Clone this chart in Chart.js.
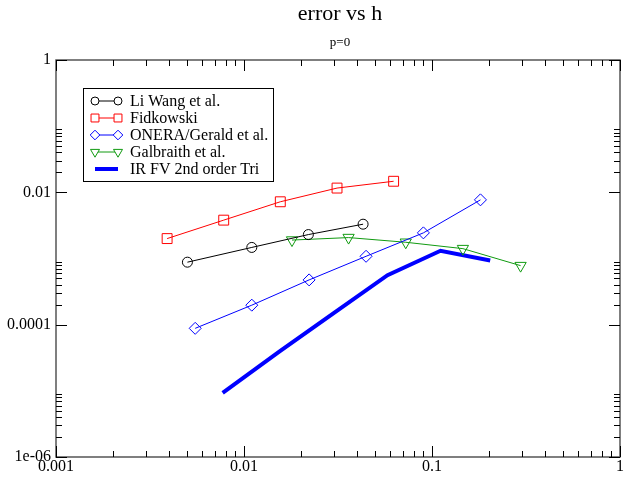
<!DOCTYPE html>
<html>
<head>
<meta charset="utf-8">
<title>error vs h</title>
<script src="https://cdn.jsdelivr.net/npm/chart.js@4/dist/chart.umd.min.js"></script>
<style>
  html, body { margin: 0; padding: 0; background: #fff; }
  #wrap { width: 628px; height: 477px; }
</style>
</head>
<body>
<div id="wrap"><canvas id="errChart" width="628" height="477"></canvas></div>
<script>
// mesh size h vs error, p=0
const liWangH = [0.005, 0.011, 0.022, 0.043];
const liWangErr = [8.8e-4, 1.47e-3, 2.3e-3, 3.3e-3];

const fidkowskiH = [0.0039, 0.0078, 0.0156, 0.03125, 0.0625];
const fidkowskiErr = [2.0e-3, 3.8e-3, 7.2e-3, 1.16e-2, 1.47e-2];

const oneraH = [0.0055, 0.011, 0.0222, 0.0446, 0.09, 0.181];
const oneraErr = [8.8e-5, 1.97e-4, 4.75e-4, 1.08e-3, 2.44e-3, 7.7e-3];

const galbraithH = [0.018, 0.036, 0.0725, 0.146, 0.296];
const galbraithErr = [1.9e-3, 2.07e-3, 1.76e-3, 1.41e-3, 7.8e-4];

const irfvH = [0.0077, 0.0154, 0.030, 0.058, 0.111, 0.204];
const irfvErr = [9.3e-6, 3.9e-5, 1.5e-4, 5.6e-4, 1.31e-3, 9.3e-4];

const xTickValues = [0.001, 0.01, 0.1, 1];
const xTickLabels = ['0.001', '0.01', '0.1', '1'];
const yTickValues = [1e-6, 1e-4, 1e-2, 1];
const yTickLabels = ['1e-06', '0.0001', '0.01', '1'];

const serif = '"Liberation Serif", "DejaVu Serif", serif';

function pts(xs, ys) {
    return xs.map((x, i) => ({ x: x, y: ys[i] }));
}

function series(label, xs, ys, color, style, radius, rotation) {
    return {
        label: label,
        data: pts(xs, ys),
        showLine: true,
        borderColor: color,
        borderWidth: 1,
        pointStyle: style,
        pointRadius: radius,
        pointRotation: rotation || 0,
        pointBorderColor: color,
        pointBackgroundColor: 'rgba(0,0,0,0)',
        pointBorderWidth: 1
    };
}

const datasets = [
    series('Li Wang et al.', liWangH, liWangErr, '#000000', 'circle', 5),
    series('Fidkowski', fidkowskiH, fidkowskiErr, '#ff0000', 'rect', 7),
    series('ONERA/Gerald et al.', oneraH, oneraErr, '#0000ff', 'rectRot', 6),
    series('Galbraith et al.', galbraithH, galbraithErr, '#109a10', 'triangle', 6.5, 180),
    {
        label: 'IR FV 2nd order Tri',
        data: pts(irfvH, irfvErr),
        showLine: true,
        borderColor: '#0000ff',
        borderWidth: 4,
        pointRadius: 0
    }
];

// frame, inward ticks on all four sides, tick labels
const axesFrame = {
    id: 'axesFrame',
    afterDraw(chart) {
        const ctx = chart.ctx;
        const a = chart.chartArea;
        const xs = chart.scales.x;
        const ys = chart.scales.y;
        ctx.save();
        ctx.strokeStyle = '#555';
        ctx.lineWidth = 1.5;
        ctx.strokeRect(a.left, a.top, a.right - a.left, a.bottom - a.top);

        ctx.lineWidth = 1;
        ctx.strokeStyle = '#000';
        const major = 11, minor = 6;
        ctx.beginPath();
        // x ticks (bottom and top)
        for (let k = -3; k <= 0; k++) {
            const px = Math.round(xs.getPixelForValue(Math.pow(10, k))) + 0.5;
            ctx.moveTo(px, a.bottom); ctx.lineTo(px, a.bottom - major);
            ctx.moveTo(px, a.top); ctx.lineTo(px, a.top + major);
            if (k === 0) continue;
            for (let m = 2; m <= 9; m++) {
                const p = Math.round(xs.getPixelForValue(m * Math.pow(10, k))) + 0.5;
                ctx.moveTo(p, a.bottom); ctx.lineTo(p, a.bottom - minor);
                ctx.moveTo(p, a.top); ctx.lineTo(p, a.top + minor);
            }
        }
        // y ticks (left and right), majors every two decades
        yTickValues.forEach((v, i) => {
            const py = Math.round(ys.getPixelForValue(v)) + 0.5;
            ctx.moveTo(a.left, py); ctx.lineTo(a.left + major, py);
            ctx.moveTo(a.right, py); ctx.lineTo(a.right - major, py);
            if (i === yTickValues.length - 1) return;
            for (let m = 2; m <= 9; m++) {
                const p = Math.round(ys.getPixelForValue(m * v)) + 0.5;
                ctx.moveTo(a.left, p); ctx.lineTo(a.left + minor, p);
                ctx.moveTo(a.right, p); ctx.lineTo(a.right - minor, p);
            }
        });
        ctx.stroke();

        ctx.fillStyle = '#000';
        ctx.font = '16px ' + serif;
        ctx.textAlign = 'center';
        ctx.textBaseline = 'top';
        xTickValues.forEach((v, i) => {
            ctx.fillText(xTickLabels[i], xs.getPixelForValue(v), a.bottom + 2);
        });
        ctx.textAlign = 'right';
        ctx.textBaseline = 'middle';
        yTickValues.forEach((v, i) => {
            ctx.fillText(yTickLabels[i], a.left - 5, ys.getPixelForValue(v));
        });
        ctx.restore();
    }
};

// boxed legend in the upper left of the plot
const boxLegend = {
    id: 'boxLegend',
    afterDraw(chart) {
        const ctx = chart.ctx;
        const a = chart.chartArea;
        const left = a.left + 27, top = a.top + 28;
        const w = 190, rowH = 17;
        const h = rowH * chart.data.datasets.length + 8;
        ctx.save();
        ctx.fillStyle = '#fff';
        ctx.fillRect(left, top, w, h);
        ctx.strokeStyle = '#000';
        ctx.lineWidth = 1;
        ctx.strokeRect(left + 0.5, top + 0.5, w, h);

        ctx.font = '16px ' + serif;
        ctx.textBaseline = 'middle';
        ctx.textAlign = 'left';
        chart.data.datasets.forEach((ds, i) => {
            const cy = top + 13 + i * rowH;
            const x1 = left + 12, x2 = left + 35;
            ctx.strokeStyle = ds.borderColor;
            ctx.lineWidth = ds.borderWidth;
            ctx.beginPath();
            ctx.moveTo(x1, cy);
            ctx.lineTo(x2, cy);
            ctx.stroke();
            if (ds.pointRadius > 0) {
                const opts = {
                    pointStyle: ds.pointStyle,
                    radius: ds.pointRadius * 0.8,
                    rotation: ds.pointRotation,
                    borderWidth: 1
                };
                ctx.strokeStyle = ds.pointBorderColor;
                ctx.fillStyle = '#fff';
                Chart.helpers.drawPoint(ctx, opts, x1, cy);
                Chart.helpers.drawPoint(ctx, opts, x2, cy);
            }
            ctx.fillStyle = '#000';
            ctx.fillText(ds.label, left + 47, cy + 1);
        });
        ctx.restore();
    }
};

new Chart(document.getElementById('errChart').getContext('2d'), {
    type: 'scatter',
    data: { datasets: datasets },
    options: {
        responsive: false,
        animation: false,
        layout: { padding: { left: 56, right: 4, top: 0, bottom: 20 } },
        scales: {
            x: { type: 'logarithmic', min: 0.001, max: 1, display: false },
            y: { type: 'logarithmic', min: 1e-6, max: 1, display: false }
        },
        plugins: {
            legend: { display: false },
            tooltip: { enabled: false },
            title: {
                display: true,
                text: 'error vs h',
                color: '#000',
                font: { family: serif, size: 22, weight: 'normal' },
                padding: { top: 1, bottom: 2 }
            },
            subtitle: {
                display: true,
                text: 'p=0',
                color: '#000',
                font: { family: serif, size: 13, weight: 'normal' },
                padding: { top: 5, bottom: 10 }
            }
        }
    },
    plugins: [axesFrame, boxLegend]
});
</script>
</body>
</html>
